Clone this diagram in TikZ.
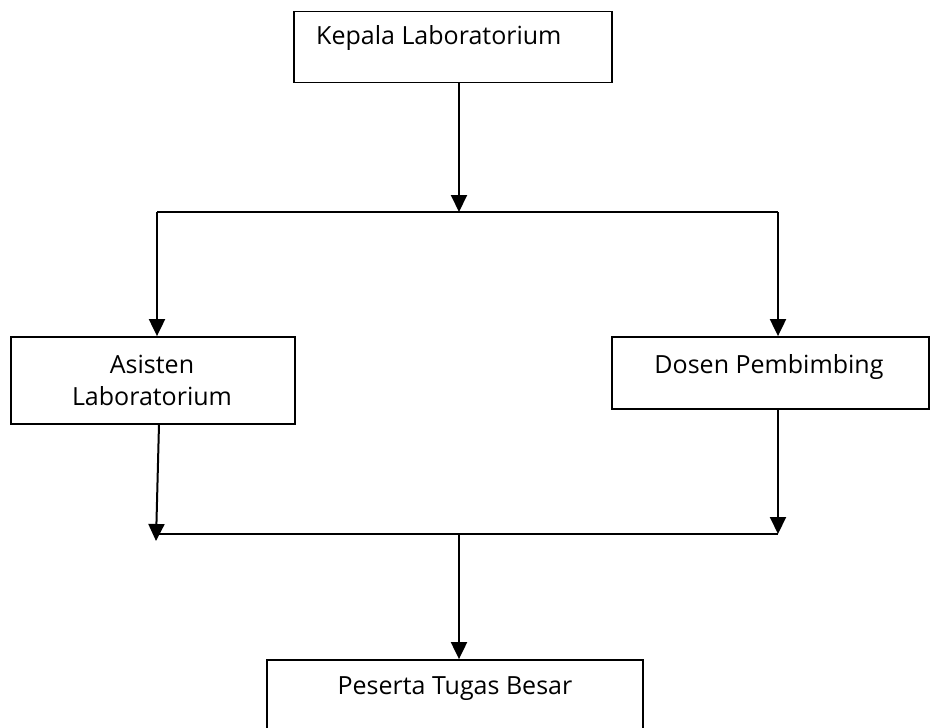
\documentclass[tikz,border=0pt]{standalone}
\usepackage{fontspec}
\setmainfont{Open Sans}
\usetikzlibrary{arrows.meta}
\begin{document}
\begin{tikzpicture}[x=1pt,y=-1pt,
  box/.style={draw=black, line width=1.8pt, fill=white, rectangle, inner sep=0pt},
  lbl/.style={font=\fontsize{25}{30}\selectfont, inner sep=0pt},
  conn/.style={draw=black, line width=2pt},
  arr/.style={conn, -{Triangle[length=17pt,width=16pt]}}]
\useasboundingbox (0,0) rectangle (935,728);
\clip (0,0) rectangle (935,728);
% boxes
\node[box, minimum width=318pt, minimum height=71pt] (kepala) at (453,47) {};
\node[box, minimum width=284pt, minimum height=87pt] (asisten) at (153,380.5) {};
\node[box, minimum width=317pt, minimum height=72pt] (dosen) at (770.5,373) {};
\node[box, minimum width=376pt, minimum height=100pt] (peserta) at (455,710) {};
% texts
\node[lbl, anchor=base west] (tk) at (316,45) {Kepala Laboratorium};
\node[lbl, anchor=base] (ta1) at (152,373) {Asisten};
\node[lbl, anchor=base] (ta2) at (152,405) {Laboratorium};
\node[lbl, anchor=base] (td) at (769,373) {Dosen Pembimbing};
\node[lbl, anchor=base] (tp) at (455,694) {Peserta Tugas Besar};
% junctions
\coordinate (j1) at (459,212);
\coordinate (j1L) at (157,212);
\coordinate (j1R) at (778,212);
\coordinate (aout) at (159,424);
\coordinate (j2L) at (156,541);
\coordinate (j2Ls) at (157,534);
\coordinate (j2R) at (778,534);
\coordinate (j2) at (459,534);
% connectors
\draw[arr] (kepala.south -| j1) -- (j1);
\draw[conn] (j1L) -- (j1R);
\draw[arr] (j1L) -- (asisten.north -| j1L);
\draw[arr] (j1R) -- (dosen.north -| j1R);
\draw[arr] (aout) -- (j2L);
\draw[arr] (dosen.south -| j2R) -- (j2R);
\draw[conn] (j2Ls) -- (j2R);
\draw[arr] (j2) -- (peserta.north -| j2);
\end{tikzpicture}
\end{document}
